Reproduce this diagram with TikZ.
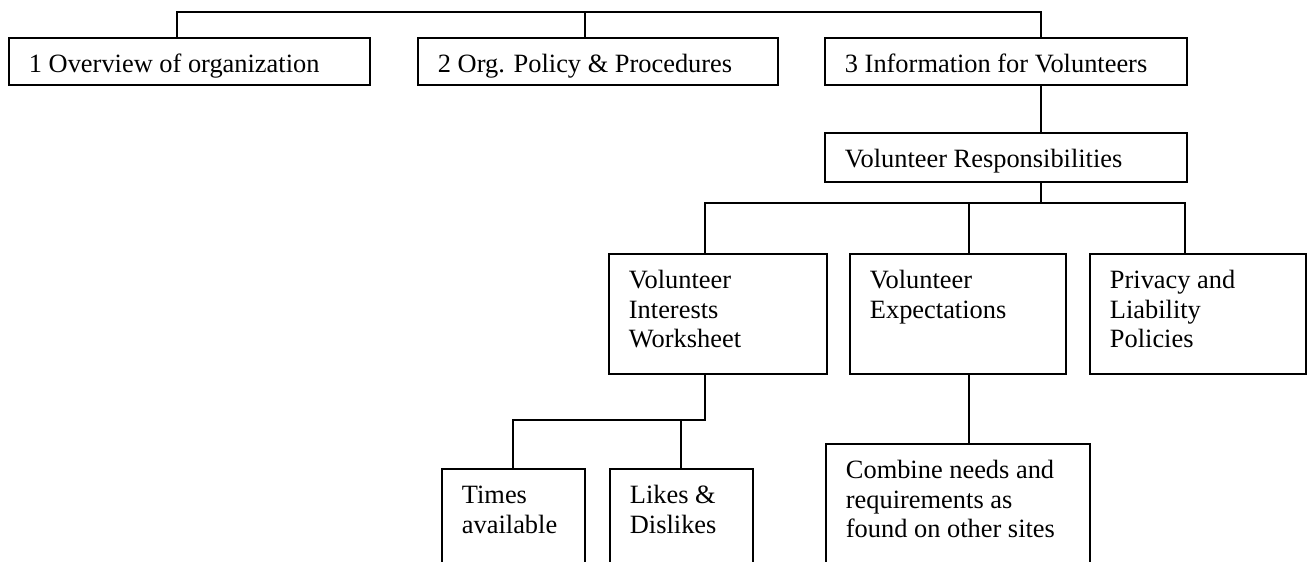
\documentclass[tikz,border=0pt]{standalone}
\usepackage{fontspec}
\setmainfont{Liberation Serif}
\newcommand{\bx}[3]{\parbox[c][\dimexpr 0.75pt*#2\relax][t]{\dimexpr 0.75pt*#1\relax}{\raggedright\leftskip=15pt\relax\rule{0pt}{26.25pt}#3}}
\tikzset{
  box/.style={draw=black, line width=1.4pt, inner sep=0pt, anchor=north west,
    font=\fontsize{19.8pt}{22pt}\selectfont},
  conn/.style={draw=black, line width=1.1pt}
}
\begin{document}
\begin{tikzpicture}[x=0.75pt, y=-0.75pt]
\clip (0,0) rectangle (1311,561);
\fill[white] (0,0) rectangle (1311,561);
% level 1
\node[box] (b1) at (8,37) {\bx{361}{47}{1 Overview of organization}};
\node[box] (b2) at (417,37) {\bx{360}{47}{2 Org. Policy \& Procedures}};
\node[box] (b3) at (824,37) {\bx{362}{47}{3 Information for Volunteers}};
% level 2
\node[box] (vr) at (824,132) {\bx{362}{49}{Volunteer Responsibilities}};
% level 3
\node[box] (viw) at (608,253) {\bx{218}{120}{Volunteer\\Interests\\Worksheet}};
\node[box] (ve) at (849,253) {\bx{216}{120}{Volunteer\\Expectations}};
\node[box] (plp) at (1089,253) {\bx{216}{120}{Privacy and\\Liability\\Policies}};
% level 4
\node[box] (times) at (441,468) {\bx{143}{110}{Times\\available}};
\node[box] (likes) at (609,468) {\bx{143}{110}{Likes \&\\Dislikes}};
\node[box] (comb) at (825,443) {\bx{264}{140}{Combine needs and\\requirements as\\found on other sites}};
% connectors
\coordinate (bus1) at (177,12);
\coordinate (bus2) at (585,12);
\coordinate (bus3) at (1041,12);
\draw[conn] (b1.north -| bus1) -- (bus1) -- (bus3) -- (b3.north -| bus3);
\draw[conn] (bus2) -- (b2.north -| bus2);
\draw[conn] (b3.south -| bus3) -- (vr.north -| bus3);
\coordinate (m0) at (1041,203);
\coordinate (m1) at (705,203);
\coordinate (m2) at (969,203);
\coordinate (m3) at (1185,203);
\draw[conn] (vr.south -| m0) -- (m0);
\draw[conn] (viw.north -| m1) -- (m1) -- (m3) -- (plp.north -| m3);
\draw[conn] (m2) -- (ve.north -| m2);
\coordinate (n0) at (705,420);
\coordinate (n1) at (513,420);
\coordinate (n2) at (681,420);
\draw[conn] (viw.south -| n0) -- (n0) -- (n1) -- (times.north -| n1);
\draw[conn] (n2) -- (likes.north -| n2);
\draw[conn] (ve.south -| m2) -- (comb.north -| m2);
\end{tikzpicture}
\end{document}
